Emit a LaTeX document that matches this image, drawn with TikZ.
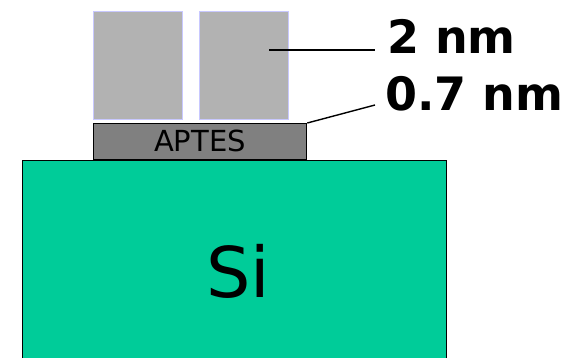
\documentclass[tikz,border=0pt]{standalone}
\usepackage{fontspec}
\setmainfont{DejaVu Sans}
\definecolor{sigreen}{HTML}{00CC99}
\definecolor{blockgray}{HTML}{B2B2B2}
\definecolor{blockedge}{HTML}{C8C8FF}
\definecolor{aptesgray}{HTML}{808080}
\begin{document}
\begin{tikzpicture}[x=1pt,y=-1pt,
  layer/.style={draw=black,line width=1.3pt,inner sep=0pt,anchor=north west},
  pillar/.style={fill=blockgray,draw=blockedge,line width=1.2pt,inner sep=0pt,anchor=north west,
    minimum width=89pt,minimum height=108pt},
  leader/.style={line width=1.4pt},
  dimlabel/.style={inner sep=0pt,anchor=base west,font=\fontsize{46}{46}\selectfont\bfseries}]
  \useasboundingbox (0,0) rectangle (582,357);
  % silicon substrate
  \node[layer,fill=sigreen,minimum width=424pt,minimum height=205pt] (si) at (22,160) {};
  \node[font=\fontsize{70}{70}\selectfont] at (238,271) (silabel) {Si};
  % APTES monolayer
  \node[layer,fill=aptesgray,minimum width=213pt,minimum height=36pt] (aptes) at (93,123) {};
  \node[font=\fontsize{29}{29}\selectfont] at (200,141) (aptestext) {APTES};
  % molecular pillars
  \node[pillar] (p1) at (93,11) {};
  \node[pillar] (p2) at (199,11) {};
  % thickness labels
  \node[dimlabel] (t2) at (387,53) {2 nm};
  \node[dimlabel] (t07) at (385,110) {0.7 nm};
  \coordinate (in2) at (269,50);
  \coordinate (c2) at (375,50);
  \coordinate (c07) at (375,105);
  \draw[leader] (in2) -- (c2);
  \draw[leader] (aptes.north east) -- (c07);
\end{tikzpicture}
\end{document}
